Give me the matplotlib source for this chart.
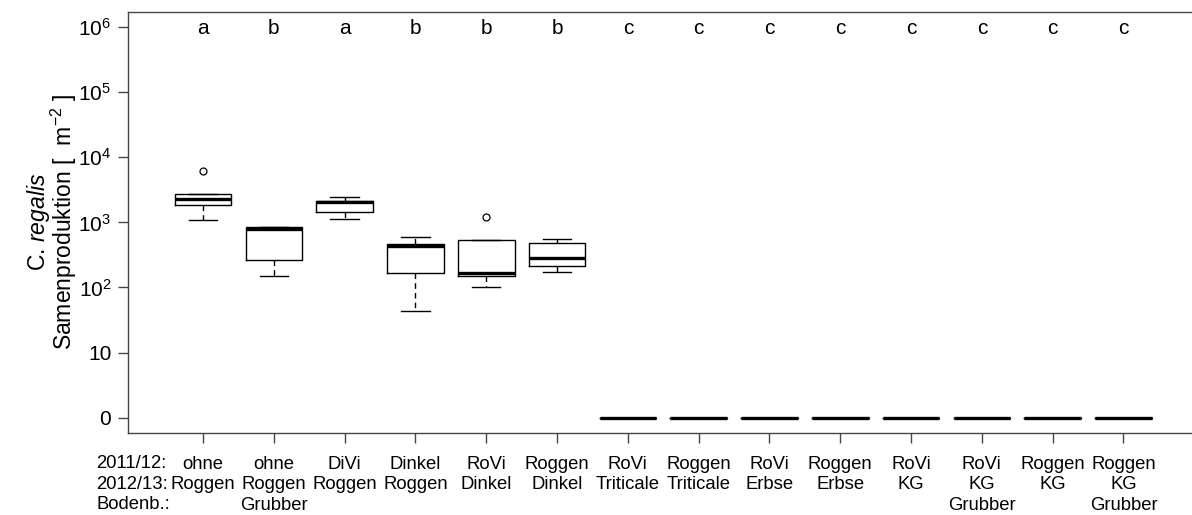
import numpy as np
import matplotlib.pyplot as plt

plt.rcParams['font.family'] = ['Liberation Sans', 'DejaVu Sans']
plt.rcParams['mathtext.fontset'] = 'custom'
plt.rcParams['mathtext.rm'] = 'Liberation Sans'
plt.rcParams['mathtext.it'] = 'Liberation Sans:italic'

# Varianten (Fruchtfolge 2011/12, 2012/13, Bodenbearbeitung)
vorfrucht = ['ohne', 'ohne', 'DiVi', 'Dinkel', 'RoVi', 'Roggen', 'RoVi',
             'Roggen', 'RoVi', 'Roggen', 'RoVi', 'RoVi', 'Roggen', 'Roggen']
frucht = ['Roggen', 'Roggen', 'Roggen', 'Roggen', 'Dinkel', 'Dinkel', 'Triticale',
          'Triticale', 'Erbse', 'Erbse', 'KG', 'KG', 'KG', 'KG']
bodenb = ['', 'Grubber', '', '', '', '', '', '', '', '', '', 'Grubber', '', 'Grubber']
letters = ['a', 'b', 'a', 'b', 'b', 'b', 'c', 'c', 'c', 'c', 'c', 'c', 'c', 'c']

# Samenproduktion [m^-2], Boxplot-Kennwerte
whislo = [1090, 152, 1125, 44, 102, 172, 0, 0, 0, 0, 0, 0, 0, 0]
q1 = [1850, 265, 1430, 169, 152, 214, 0, 0, 0, 0, 0, 0, 0, 0]
med = [2300, 795, 2040, 440, 169, 288, 0, 0, 0, 0, 0, 0, 0, 0]
q3 = [2700, 842, 2130, 461, 543, 478, 0, 0, 0, 0, 0, 0, 0, 0]
whishi = [2700, 842, 2470, 597, 543, 556, 0, 0, 0, 0, 0, 0, 0, 0]
fliers = [[6200], [], [], [], [1210], [], [], [], [], [], [], [], [], []]


def tr(v):
    # log10-Achse, 0 wird auf 0 gesetzt
    return np.log10(np.maximum(np.asarray(v, dtype=float), 1))


stats = []
for i in range(len(med)):
    stats.append(dict(med=tr(med[i]), q1=tr(q1[i]), q3=tr(q3[i]),
                      whislo=tr(whislo[i]), whishi=tr(whishi[i]),
                      fliers=tr(fliers[i]) if fliers[i] else np.array([])))

pos = np.arange(1, len(med) + 1)

fig = plt.figure(figsize=(11.92, 5.15), dpi=100)
ax = fig.add_axes([128 / 1192, 1 - 433.3 / 515, 1070.5 / 1192, 421.8 / 515])

ax.bxp(stats, positions=pos, widths=0.8, capwidths=0.4, manage_ticks=False,
       boxprops=dict(color='black', lw=1),
       medianprops=dict(color='black', lw=2.4, solid_capstyle='butt'),
       whiskerprops=dict(color='black', lw=1, linestyle=(0, (4, 3))),
       capprops=dict(color='black', lw=1),
       flierprops=dict(marker='o', markersize=5, markerfacecolor='none',
                       markeredgecolor='black', markeredgewidth=0.9))

for p, l in zip(pos, letters):
    ax.text(p, 5.89, l, ha='center', va='baseline', fontsize=15)

ax.set_xlim(-0.06, 15.06)
ax.set_ylim(-0.24, 6.24)

ax.set_yticks(range(7))
ax.set_yticklabels(['0', '10'] + ['$10^{%d}$' % k for k in range(2, 7)])
ax.set_xticks(pos)
ax.set_xticklabels([f'{a}\n{b}\n{c}' for a, b, c in zip(vorfrucht, frucht, bodenb)],
                   linespacing=1.27)
ax.tick_params(axis='y', length=7, width=1, color='#444444', labelsize=15, pad=5)
ax.tick_params(axis='x', length=7, width=1, color='#444444', labelsize=13.3, pad=9)
for s in ax.spines.values():
    s.set_color('#444444')
    s.set_linewidth(1)

fig.text(96 / 1192, 1 - 455 / 515, '2011/12:\n2012/13:\nBodenb.:', ha='left', va='top',
         fontsize=13.3, linespacing=1.27)

fig.text(52 / 1192, 1 - 222 / 515,
         'C. $\\mathit{regalis}$\nSamenproduktion [  m$^{-2}$ ]',
         rotation=90, ha='center', va='center', multialignment='center',
         fontsize=16.5, linespacing=0.85)

fig.savefig('out.png', dpi=100)
